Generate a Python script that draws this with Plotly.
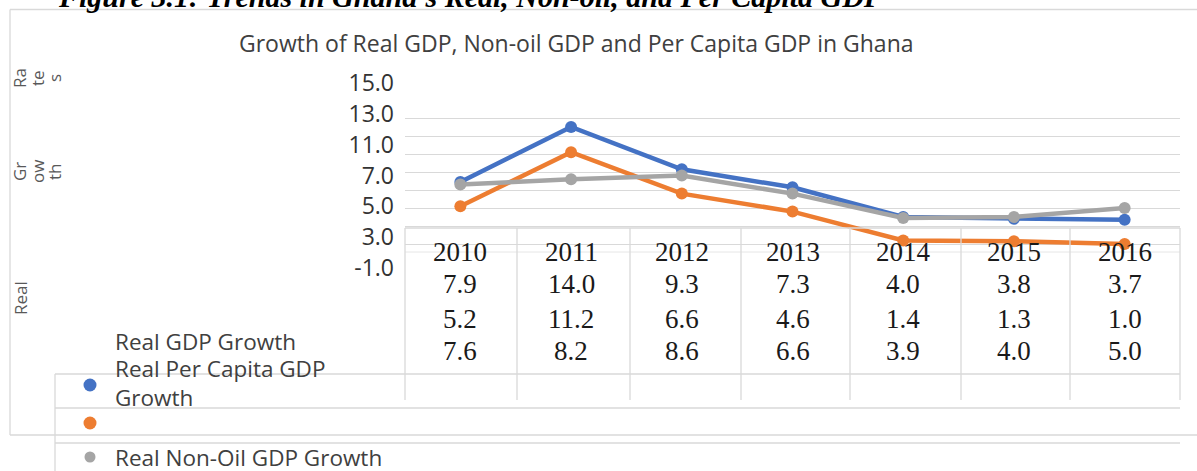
import plotly.graph_objects as go

# ---- data ----
years = ["2010", "2011", "2012", "2013", "2014", "2015", "2016"]
real_gdp = [7.9, 14.0, 9.3, 7.3, 4.0, 3.8, 3.7]
per_capita_gdp = [5.2, 11.2, 6.6, 4.6, 1.4, 1.3, 1.0]
non_oil_gdp = [7.6, 8.2, 8.6, 6.6, 3.9, 4.0, 5.0]
series_names = ["Real GDP Growth", "Real Per Capita GDP Growth", "Real Non-Oil GDP Growth"]
ytick_labels = ["15.0", "13.0", "11.0", "7.0", "5.0", "3.0", "-1.0"]
grid_vals = [1, 3, 5, 7, 9, 11, 13, 15]

W, H = 1197, 471
def px(x):
    return x / W
def py(y):
    return 1 - y / H

BLUE, ORANGE, GRAY = "#4472C4", "#ED7D31", "#A5A5A5"
LINE = "#d9d9d9"
SANS = "Open Sans"
SERIF = "Liberation Serif"

fig = go.Figure()
for name, vals, col in [(series_names[0], real_gdp, BLUE),
                        (series_names[1], per_capita_gdp, ORANGE),
                        (series_names[2], non_oil_gdp, GRAY)]:
    fig.add_trace(go.Scatter(x=years, y=vals, name=name, mode="lines+markers",
                             line=dict(color=col, width=4.5),
                             marker=dict(color=col, size=12),
                             showlegend=False))
# invisible trace carrying the tick-label axis
fig.add_trace(go.Scatter(x=[years[0]], y=[0], yaxis="y2", mode="markers",
                         marker=dict(opacity=0), showlegend=False, hoverinfo="skip"))

# data axis: value v -> pixel 253 - 9v
y_top_val = 253 / 9
y_bot_val = (253 - H) / 9
# tick-label axis: index i -> pixel 83 + 30.83 i
step = 30.83
i_top = (0 - 83) / step
i_bot = (H - 83) / step

fig.update_layout(
    width=W, height=H,
    margin=dict(l=0, r=0, t=0, b=0),
    paper_bgcolor="white", plot_bgcolor="white",
    xaxis=dict(type="category", categoryorder="array", categoryarray=years,
               domain=[px(405), px(1180)], range=[-0.5, 6.5],
               showgrid=False, showline=False, zeroline=False,
               showticklabels=False, ticks=""),
    yaxis=dict(domain=[0, 1], range=[y_bot_val, y_top_val],
               tickvals=grid_vals, showticklabels=False, ticks="",
               showgrid=True, gridcolor=LINE, gridwidth=1.2,
               zeroline=False, showline=False),
    yaxis2=dict(overlaying="y", anchor="x", side="left",
                range=[i_bot, i_top], tickvals=list(range(len(ytick_labels))),
                ticktext=ytick_labels, showgrid=False, zeroline=False,
                showline=False, ticks="", ticklabelstandoff=10,
                tickfont=dict(family=SANS, size=23, color="#333333")),
)

shapes = []
def hline(y, x0, x1, color=LINE, w=1.3):
    shapes.append(dict(type="line", xref="paper", yref="paper",
                       x0=px(x0), x1=px(x1), y0=py(y), y1=py(y),
                       line=dict(color=color, width=w)))
def vline(x, y0, y1, color=LINE, w=1.3):
    shapes.append(dict(type="line", xref="paper", yref="paper",
                       x0=px(x), x1=px(x), y0=py(y0), y1=py(y1),
                       line=dict(color=color, width=w)))

# outer chart border
vline(10, 9.5, 435)
hline(9.5, 10, 1197)
hline(435, 10, 1197)
# table grid
hline(228, 405, 1180)
hline(252, 405, 1180, color="#e6e6e6", w=1)
for xb in [405, 517, 630, 741, 850, 961, 1070, 1180]:
    vline(xb, 228, 400)
hline(374, 55, 1180)
# legend box
vline(55, 374, 471)
hline(408, 55, 1180)
hline(443, 55, 1180)

# legend dots
for (cx, cy, col, r) in [(90, 385, BLUE, 6.5), (90, 423, ORANGE, 6.5), (90, 457, GRAY, 5.5)]:
    shapes.append(dict(type="circle", xref="paper", yref="paper",
                       x0=px(cx - r), x1=px(cx + r), y0=py(cy + r), y1=py(cy - r),
                       fillcolor=col, line=dict(width=0)))
fig.update_layout(shapes=shapes)

ann = []
# figure caption (mostly cut off at the top edge)
ann.append(dict(text="<b><i>Figure 3.1: Trends in Ghana's Real, Non-oil, and Per Capita GDP</i></b>",
                xref="paper", yref="paper", x=px(56), y=py(15), xanchor="left", yanchor="bottom",
                showarrow=False, font=dict(family=SERIF, size=30, color="#000000")))
# chart title
ann.append(dict(text="Growth of Real GDP, Non-oil GDP and Per Capita GDP in Ghana",
                xref="paper", yref="paper", x=px(576), y=py(43), xanchor="center", yanchor="middle",
                showarrow=False, font=dict(family=SANS, size=23, color="#404040")))
# fragmented axis title
for txt, x, y in [("Ra", 20, 78), ("te", 38, 78), ("s", 55, 78),
                  ("Gr", 20, 172), ("ow", 38, 172), ("th", 55, 172),
                  ("Real", 20, 298)]:
    ann.append(dict(text=txt, xref="paper", yref="paper", x=px(x), y=py(y),
                    xanchor="center", yanchor="middle", textangle=-90, showarrow=False,
                    font=dict(family=SANS, size=17, color="#595959")))
# table: years and values
for i, yr in enumerate(years):
    ann.append(dict(text=yr, xref="x", yref="paper", x=i, y=py(252),
                    xanchor="center", yanchor="middle", showarrow=False,
                    font=dict(family=SERIF, size=27, color="#1a1a1a")))
    for vals, ry in [(real_gdp, 284), (per_capita_gdp, 319), (non_oil_gdp, 351)]:
        ann.append(dict(text=f"{vals[i]:.1f}", xref="x", yref="paper", x=i, y=py(ry),
                        xanchor="center", yanchor="middle", showarrow=False,
                        font=dict(family=SERIF, size=27, color="#1a1a1a")))
# legend labels
for txt, y in [("Real GDP Growth", 341), ("Real Per Capita GDP", 368),
               ("Growth", 397), (series_names[2], 457)]:
    ann.append(dict(text=txt, xref="paper", yref="paper", x=px(113), y=py(y),
                    xanchor="left", yanchor="middle", showarrow=False,
                    font=dict(family=SANS, size=22.5, color="#404040")))
fig.update_layout(annotations=ann)

fig.write_html("out.html", config={"displayModeBar": False},
               post_script="document.body.style.margin='0px';document.body.style.overflow='hidden';")
